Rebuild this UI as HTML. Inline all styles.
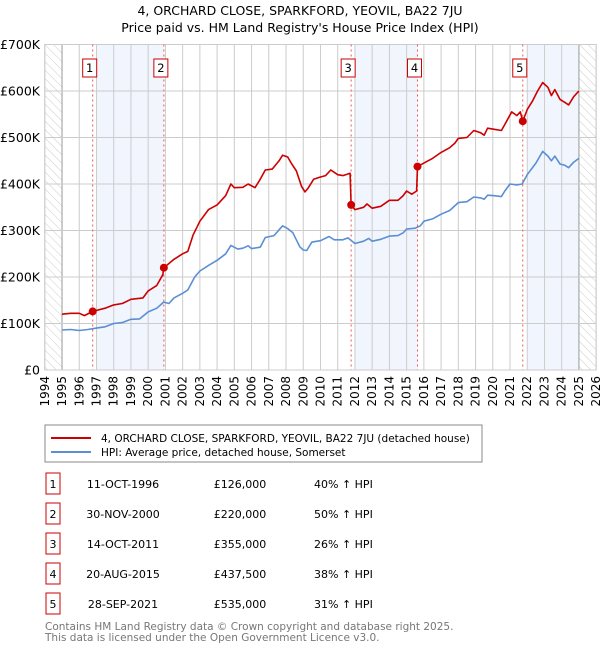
<!DOCTYPE html>
<html><head><meta charset="utf-8">
<style>
body{margin:0;background:#fff;font-family:"DejaVu Sans","Liberation Sans",sans-serif;}
svg text{font-family:"DejaVu Sans","Liberation Sans",sans-serif;}
</style></head>
<body>
<svg id="chart" width="600" height="650" viewBox="0 0 600 650" xmlns="http://www.w3.org/2000/svg">
<text x="300" y="15" text-anchor="middle" font-size="12.5">4, ORCHARD CLOSE, SPARKFORD, YEOVIL, BA22 7JU</text>
<text x="300" y="32" text-anchor="middle" font-size="12.5">Price paid vs. HM Land Registry's House Price Index (HPI)</text>
<defs><pattern id="hatch" width="6" height="6" patternUnits="userSpaceOnUse" patternTransform="rotate(-45)"><line x1="0" y1="0" x2="0" y2="6" stroke="#ccc" stroke-width="1"/></pattern></defs>
<g id="plot"></g>
<g>
<rect x="45" y="425" width="437" height="37" fill="#fff" stroke="#888"/>
<line x1="51" y1="438" x2="91" y2="438" stroke="#cc0000" stroke-width="2"/>
<text x="101" y="442" font-size="10.5">4, ORCHARD CLOSE, SPARKFORD, YEOVIL, BA22 7JU (detached house)</text>
<line x1="51" y1="452" x2="91" y2="452" stroke="#5b8fd4" stroke-width="2"/>
<text x="101" y="456" font-size="10.5">HPI: Average price, detached house, Somerset</text>
</g>
<g id="table"></g>
<text x="45" y="630" font-size="10.5" fill="#777">Contains HM Land Registry data © Crown copyright and database right 2025.</text>
<text x="45" y="641" font-size="10.5" fill="#777">This data is licensed under the Open Government Licence v3.0.</text>
</svg>
<script>
const redT=[1995,1995.5,1996,1996.3,1996.78,1997.5,1998,1998.5,1999,1999.7,2000,2000.5,2000.85,2000.91,2001.5,2002,2002.3,2002.6,2003,2003.5,2004,2004.5,2004.8,2005,2005.5,2005.8,2006.2,2006.5,2006.8,2007.2,2007.6,2007.8,2008.1,2008.3,2008.6,2008.9,2009.1,2009.3,2009.6,2010,2010.3,2010.6,2011,2011.3,2011.72,2011.78,2012,2012.5,2012.7,2013,2013.5,2014,2014.5,2014.8,2015,2015.3,2015.58,2015.63,2016,2016.5,2017,2017.5,2017.8,2018,2018.5,2018.9,2019.3,2019.5,2019.7,2020,2020.5,2020.7,2021.1,2021.4,2021.6,2021.74,2022,2022.3,2022.6,2022.9,2023.2,2023.4,2023.6,2023.9,2024.2,2024.4,2024.7,2025];
const redV=[120,122,122,117,126,133,140,143,152,155,170,182,205,220,238,250,255,290,320,345,355,375,400,392,393,400,392,410,430,432,450,462,458,445,428,395,383,392,410,415,418,430,420,418,423,355,345,350,357,348,352,365,365,375,385,378,385,437.5,445,455,468,478,488,498,500,515,510,505,520,518,515,528,555,547,555,535,560,578,600,618,608,590,603,582,575,570,588,600];
const hpiT=[1995,1995.5,1996,1996.5,1997,1997.5,1998,1998.5,1999,1999.5,2000,2000.5,2000.9,2001.2,2001.5,2002,2002.3,2002.7,2003,2003.5,2004,2004.5,2004.8,2005.2,2005.5,2005.8,2006,2006.5,2006.8,2007.3,2007.8,2008.1,2008.4,2008.8,2009,2009.2,2009.5,2010,2010.5,2010.8,2011.3,2011.6,2012,2012.5,2012.8,2013,2013.5,2014,2014.5,2014.8,2015,2015.5,2015.8,2016,2016.5,2017,2017.5,2018,2018.5,2018.9,2019.3,2019.5,2019.7,2020,2020.5,2020.7,2021,2021.4,2021.7,2022,2022.5,2022.9,2023.2,2023.4,2023.6,2023.9,2024.2,2024.4,2024.7,2025];
const hpiV=[86,87,85,87,90,93,100,102,109,110,125,133,146,143,155,165,172,200,213,225,236,250,268,260,262,267,261,264,285,289,310,304,295,265,258,257,275,278,287,280,280,284,272,277,283,277,281,288,289,295,303,305,310,320,325,335,343,360,362,372,370,367,376,375,373,385,400,398,400,420,445,470,460,450,460,443,440,435,447,455];
const saleT=[1996.78,2000.91,2011.78,2015.63,2021.74];
const saleV=[126,220,355,437.5,535];
const saleLabels=["1","2","3","4","5"];
const saleDates=["11-OCT-1996","30-NOV-2000","14-OCT-2011","20-AUG-2015","28-SEP-2021"];
const salePrices=["£126,000","£220,000","£355,000","£437,500","£535,000"];
const saleHpi=["40% ↑ HPI","50% ↑ HPI","26% ↑ HPI","38% ↑ HPI","31% ↑ HPI"];
const yTicks=[0,100,200,300,400,500,600,700];
const yTickLabels=["£0","£100K","£200K","£300K","£400K","£500K","£600K","£700K"];
const bands=[[1997,2000.91],[2012,2015.63],[2022,2025]];

const NS="http://www.w3.org/2000/svg";
const X0=44.8,YW=17.23,Y0=370,YK=0.465;
const xs=t=>X0+(t-1994)*YW;
const ys=v=>Y0-v*YK;
const plot=document.getElementById('plot');
function mk(tag,attrs,parent){const e=document.createElementNS(NS,tag);for(const k in attrs)e.setAttribute(k,attrs[k]);(parent||plot).appendChild(e);return e;}
const TOPY=ys(700);
bands.forEach(b=>{const r=mk('rect',{x:xs(b[0]),y:TOPY,width:xs(b[1])-xs(b[0]),height:Y0-TOPY,fill:'#eef3fc',opacity:0.8});

});
[[1994,1995],[2025,2026]].forEach(h=>{const r=mk('rect',{x:xs(h[0]),y:TOPY,width:xs(h[1])-xs(h[0]),height:Y0-TOPY,fill:'url(#hatch)'});

});
for(let y=1994;y<=2026;y++){const l=mk('line',{x1:xs(y),x2:xs(y),y1:TOPY,y2:Y0,stroke:(y==1995||y==2025)?'#999':'#ccc','stroke-width':1});


const t=mk('text',{x:0,y:0,'font-size':12,'text-anchor':'end',transform:`translate(${xs(y)+4},${Y0+6}) rotate(-90)`});t.textContent=y;

}
yTicks.forEach((v,i)=>{const l=mk('line',{x1:xs(1994),x2:xs(2026),y1:ys(v),y2:ys(v),stroke:'#ccc','stroke-width':1});


const t=mk('text',{x:40,y:ys(v)+4.5,'font-size':12.5,'text-anchor':'end'});t.textContent=yTickLabels[i];

});
mk('rect',{x:xs(1994),y:TOPY,width:xs(2026)-xs(1994),height:Y0-TOPY,fill:'none',stroke:'#ccc'});
saleT.forEach((t,i)=>{const l=mk('line',{x1:xs(t),x2:xs(t),y1:TOPY,y2:Y0,stroke:'#e55','stroke-width':1,'stroke-dasharray':'2,3'});


const g=mk('g',{});


mk('rect',{x:xs(t)-10,y:59,width:14,height:18,fill:'#fff',stroke:'#cc0000'},g);
const tx=mk('text',{x:xs(t)-3,y:72,'font-size':11.5,'text-anchor':'middle'},g);tx.textContent=saleLabels[i];});
function path(T,V,color,name){let d='';T.forEach((t,i)=>{d+=(i?'L':'M')+xs(t).toFixed(1)+','+ys(V[i]).toFixed(1);});
const p=mk('path',{d:d,fill:'none',stroke:color,'stroke-width':1.6,'stroke-linejoin':'round'});

}
path(hpiT,hpiV,'#5b8fd4','hpi-line');
path(redT,redV,'#cc0000','price-paid-line');
saleT.forEach((t,i)=>{const c=mk('circle',{cx:xs(t),cy:ys(saleV[i]),r:4,fill:'#cc0000'});

});
const tb=document.getElementById('table');
saleLabels.forEach((s,i)=>{const cy=484+i*30;
const g=mk('g',{},tb);


mk('rect',{x:46,y:cy-11,width:14,height:21,fill:'#fff',stroke:'#cc0000'},g);
const a=mk('text',{x:53,y:cy+4,'font-size':11,'text-anchor':'middle'},g);a.textContent=s;
const b=mk('text',{x:123,y:cy+4,'font-size':11,'text-anchor':'middle'},g);b.textContent=saleDates[i];
const c=mk('text',{x:240,y:cy+4,'font-size':11,'text-anchor':'middle'},g);c.textContent=salePrices[i];
const d=mk('text',{x:314,y:cy+4,'font-size':11},g);d.textContent=saleHpi[i];});
</script>
</body></html>
